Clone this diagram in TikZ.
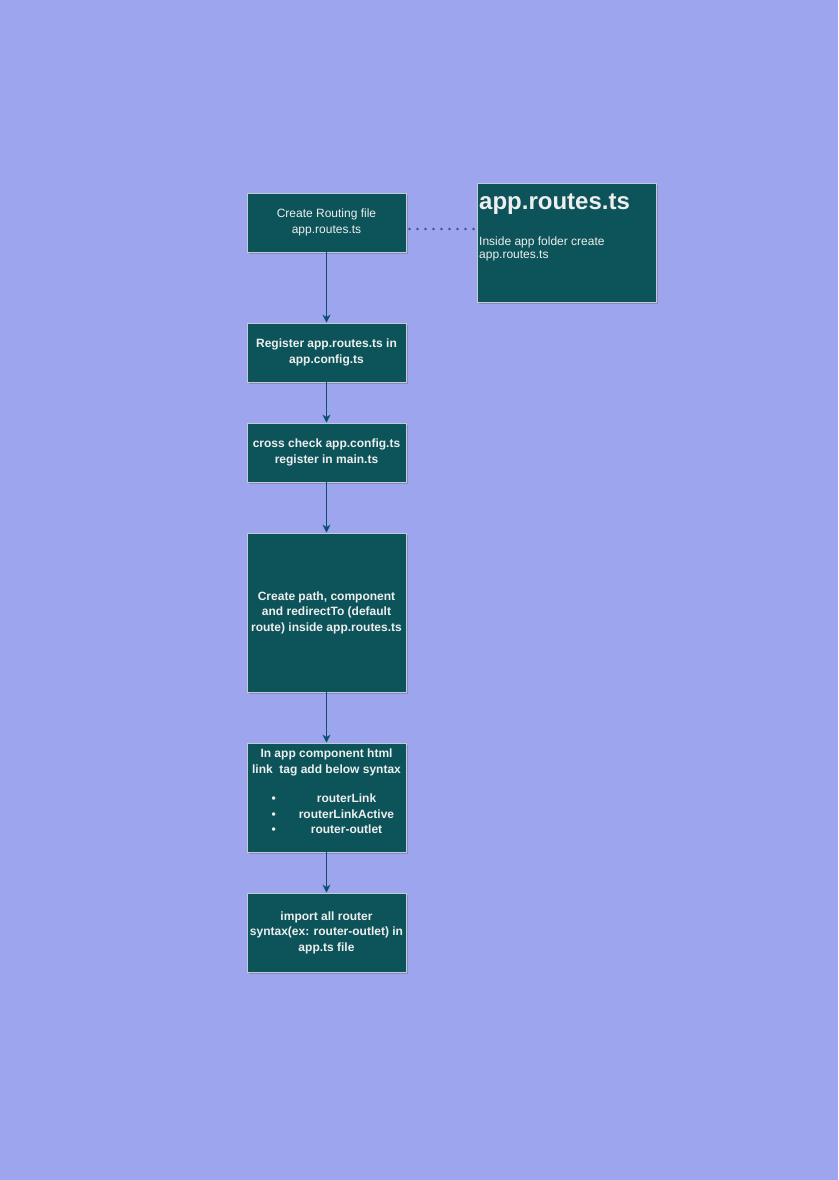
\documentclass[tikz,border=0pt]{standalone}
\usepackage{fontspec}
\setmainfont{Liberation Sans}
\usetikzlibrary{arrows.meta,shadows}
\definecolor{pageblue}{HTML}{9DA5EE}
\definecolor{boxteal}{HTML}{0D545A}
\definecolor{boxedge}{HTML}{C3CBD3}
\definecolor{boxtext}{HTML}{EEEEEE}
\definecolor{arrowblue}{HTML}{0B4F70}
\definecolor{dotblue}{HTML}{2B5494}

\begin{document}
\begin{tikzpicture}[>={Stealth[length=8pt,width=8pt,inset=2.5pt]}, line cap=round, x=1pt, y=-1pt,
  stepbox/.style={draw=boxedge, line width=.8pt, fill=boxteal, text=boxtext, align=center,
    minimum width=159, inner sep=2pt, font=\bfseries\fontsize{12}{15.5}\selectfont,
    drop shadow={shadow xshift=2pt, shadow yshift=-2pt, opacity=.3, fill=black!70}},
  flow/.style={arrowblue, line width=.9pt, ->},
  dotline/.style={dotblue, line width=2.8pt, dash pattern=on 0pt off 8pt}]

% --- page ---
\fill[pageblue] (0,0) rectangle (838,1180);
\useasboundingbox (0,0) rectangle (838,1180);

% --- layout helpers ---
\def\C{326.5}   % flow column x

% --- a small macro for the bullet lines: bullet left, item centred
\newcommand{\bulletitem}[1]{%
  \makebox[110pt][l]{\rlap{\textbullet}\hspace{75pt}\makebox[0pt]{#1}}}

% --- flow boxes (top to bottom) ---
\node[stepbox, minimum height=59, font=\fontsize{12}{15.5}\selectfont] (routing) at (\C,222.5)
  {Create Routing file\\app.routes.ts};
\node[stepbox, minimum height=59] (register) at (\C,352.5)
  {Register app.routes.ts in\\app.config.ts};
\node[stepbox, minimum height=59] (crosscheck) at (\C,452.5)
  {cross check app.config.ts\\register in main.ts};
\node[stepbox, minimum height=159] (paths) at (\C,612.5)
  {Create path, component\\and redirectTo (default\\route) inside app.routes.ts};
\node[stepbox, minimum height=109] (linktags) at (\C,797.5)
  {In app component html\\link\ \ tag add below syntax\\[14pt]
   \bulletitem{routerLink}\\\bulletitem{routerLinkActive}\\\bulletitem{router-outlet}\\[-3pt]\mbox{}};
\node[stepbox, minimum height=79] (importing) at (\C,932.5)
  {import all router\\syntax(ex: router-outlet) in\\app.ts file};

% --- side note ---
\node[stepbox, minimum width=179, minimum height=119, anchor=north west] (routesnote) at (477,183) {};
\node[text=boxtext, inner sep=0pt, anchor=base west, font=\bfseries\fontsize{24}{28}\selectfont]
  (notetitle) at ([shift={(2,26)}]routesnote.north west) {app.routes.ts};
\node[text=boxtext, inner sep=0pt, anchor=north west, align=left, font=\fontsize{12}{13.5}\selectfont]
  (notebody) at ([shift={(2,53.5)}]routesnote.north west) {Inside app folder create\\app.routes.ts};

% --- connectors ---
\draw[flow] (routing) -- (register);
\draw[flow] (register) -- (crosscheck);
\draw[flow] (crosscheck) -- (paths);
\draw[flow] (paths) -- (linktags);
\draw[flow] (linktags) -- (importing);
\coordinate (dotstart) at ([shift={(3,6.5)}]routing.east);
\draw[dotline] (dotstart) -- (dotstart -| routesnote.west);

\end{tikzpicture}
\end{document}
